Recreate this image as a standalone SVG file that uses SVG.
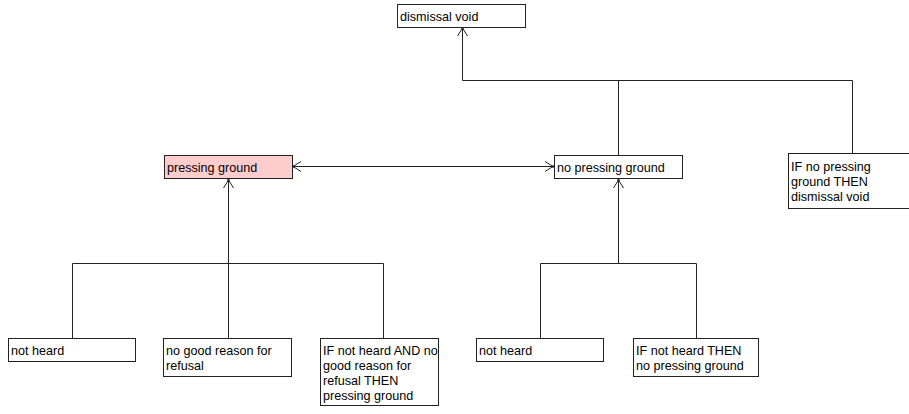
<svg xmlns="http://www.w3.org/2000/svg" width="909" height="414" viewBox="0 0 909 414">
<defs>
<marker id="arr" viewBox="-10 -6 12 12" refX="0" refY="0" markerWidth="12" markerHeight="12" markerUnits="userSpaceOnUse" orient="auto-start-reverse">
<path d="M-8,-5 L0,0 L-8,5" fill="none" stroke="#222" stroke-width="1"/>
<circle cx="0" cy="0" r="1.2" fill="#222"/>
</marker>
<style>
.box{fill:#fff;stroke:#222;stroke-width:1}
.pink{fill:#ffcccc}
text{font-family:"Liberation Sans",Arial,sans-serif;font-size:12.6px;fill:#000}
.c{fill:none;stroke:#222;stroke-width:1}
</style>
</defs>
<rect width="909" height="414" fill="#fff"/>
<g id="connectors">
<path class="c" d="M462.5,80.5 V28" marker-end="url(#arr)"/>
<path class="c" d="M462.5,80.5 H852.5 V153"/>
<path class="c" d="M618.5,80.5 V155"/>
<path class="c" d="M293,166.5 H553" marker-start="url(#arr)" marker-end="url(#arr)"/>
<path class="c" d="M228.5,263.5 V180" marker-end="url(#arr)"/>
<path class="c" d="M72.5,338 V263.5 H383.5 V338"/>
<path class="c" d="M228.5,263.5 V338"/>
<path class="c" d="M618.5,263.5 V180" marker-end="url(#arr)"/>
<path class="c" d="M540.5,338 V263.5 H696.5 V338"/>
</g>
<g id="n-dismissal-void"><rect class="box" x="397.5" y="4.5" width="128" height="23"/><text x="400" y="21">dismissal void</text></g>
<g id="n-pressing-ground"><rect class="box pink" x="164.5" y="155.5" width="128" height="23"/><text x="167" y="172">pressing ground</text></g>
<g id="n-no-pressing-ground"><rect class="box" x="554.5" y="155.5" width="128" height="23"/><text x="557" y="172">no pressing ground</text></g>
<g id="n-rule-dismissal"><rect class="box" x="788.5" y="153.5" width="130" height="55"/><text x="791" y="171">IF no pressing</text><text x="791" y="186">ground THEN</text><text x="791" y="201">dismissal void</text></g>
<g id="n-not-heard-1"><rect class="box" x="8.5" y="338.5" width="127" height="23"/><text x="11" y="355">not heard</text></g>
<g id="n-no-good-reason"><rect class="box" x="163.5" y="338.5" width="128" height="38"/><text x="166" y="355">no good reason for</text><text x="166" y="370">refusal</text></g>
<g id="n-rule-pressing"><rect class="box" x="320.5" y="338.5" width="118" height="67"/><text x="323" y="355">IF not heard AND no</text><text x="323" y="370">good reason for</text><text x="323" y="385">refusal THEN</text><text x="323" y="400">pressing ground</text></g>
<g id="n-not-heard-2"><rect class="box" x="476.5" y="338.5" width="127" height="23"/><text x="479" y="355">not heard</text></g>
<g id="n-rule-no-pressing"><rect class="box" x="633.5" y="338.5" width="125" height="38"/><text x="636" y="355">IF not heard THEN</text><text x="636" y="370">no pressing ground</text></g>
</svg>
